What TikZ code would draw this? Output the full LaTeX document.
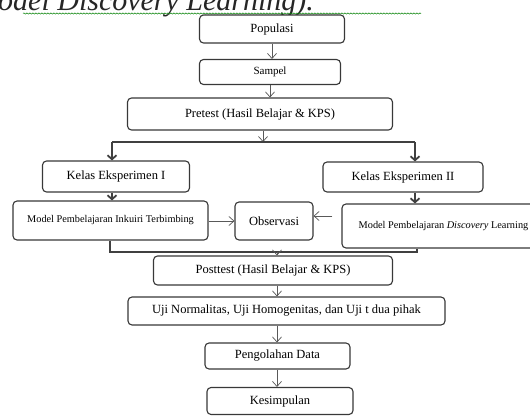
\documentclass[tikz,border=0pt]{standalone}
\usepackage{fontspec}
\setmainfont{Liberation Serif}
\usetikzlibrary{arrows.meta,positioning,decorations.pathmorphing}

\begin{document}
\begin{tikzpicture}[x=1pt,y=-1pt,
	kotak/.style={draw=black!78,line width=1.1pt,rounded corners=4pt,fill=white,inner sep=0pt,font=\fontsize{12.5}{14}\selectfont},
	kecil/.style={font=\fontsize{10.3}{12}\selectfont},
	panah/.style={draw=black!65,line width=.7pt,-{Straight Barb[length=5pt,width=9pt]}},
	cabang/.style={draw=black!75,line width=1.8pt},
	panahtebal/.style={draw=black!75,line width=1.8pt,-{Straight Barb[length=4pt,width=9pt]}}]

\useasboundingbox (0,0) rectangle (530,415);
\clip (0,0) rectangle (530,415);
\fill[white] (0,0) rectangle (530,415);

%-------------------------------------------------------------------------------
% Judul (terpotong)
%-------------------------------------------------------------------------------
\node (judul) [anchor=base west,inner sep=0pt,text=black!85,font=\fontsize{30}{32}\selectfont\itshape] at (-2,10) {odel Discovery Learning).};
\coordinate (garisawal)  at (23,13.5);
\coordinate (garisakhir) at (421,13.5);
\draw [green!50!black,line width=.5pt,decorate,decoration={snake,amplitude=.6pt,segment length=3pt}] (garisawal) -- (garisakhir);

%-------------------------------------------------------------------------------
% Populasi - Pretest
%-------------------------------------------------------------------------------
\node (populasi) [kotak,minimum width=145,minimum height=28] at (272,29)	{Populasi};
\node (sampel)   [kotak,minimum width=141,minimum height=25,font=\fontsize{11}{13}\selectfont] at (270,72)	{Sampel};
\node (pretest)  [kotak,minimum width=265,minimum height=32] at (260,114)	{Pretest (Hasil Belajar \& KPS)};
\draw [panah] (populasi.south) -- (populasi.south |- sampel.north);
\draw [panah] (sampel.south) -- (sampel.south |- pretest.north);

%-------------------------------------------------------------------------------
% Kelas eksperimen
%-------------------------------------------------------------------------------
\node (kelas1)   [kotak,minimum width=147,minimum height=31] at (116,176.5)	{Kelas Eksperimen I};
\node (kelas2)   [kotak,minimum width=160,minimum height=30] at (403,177)	{Kelas Eksperimen II};
\node (inkuiri)  [kotak,kecil,minimum width=195,minimum height=39] at (110.5,220.5)	{Model Pembelajaran Inkuiri Terbimbing};
\node (observasi) [kotak,minimum width=78,minimum height=38] at (274,221)	{Observasi};
\node (discovery) [kotak,kecil,minimum width=203,minimum height=44] at (443.5,226)	{Model Pembelajaran \textit{Discovery} Learning};

\coordinate (pisah)      at (263,142);
\coordinate (pisahkiri)  at (112,142);
\coordinate (pisahkanan) at (415,142);
\draw [panah] (pretest.south -| pisah) -- (pisah);
\draw [cabang] (pisahkiri) -- (pisahkanan);
\draw [panahtebal] (pisahkiri) -- (pisahkiri |- kelas1.north);
\draw [panahtebal] (pisahkanan) -- (pisahkanan |- kelas2.north);
\draw [panahtebal] (kelas1.south -| pisahkiri) -- (inkuiri.north -| pisahkiri);
\draw [panahtebal] (kelas2.south -| pisahkanan) -- (discovery.north -| pisahkanan);

\draw [panah] (inkuiri.east |- observasi.west) -- (observasi.west);
\draw [panah,shorten <=9pt] (discovery.west |- 0,216) -- (observasi.east |- 0,216);

%-------------------------------------------------------------------------------
% Posttest - Kesimpulan
%-------------------------------------------------------------------------------
\node (posttest)  [kotak,minimum width=239,minimum height=29] at (273,270.5)	{Posttest (Hasil Belajar \& KPS)};
\node (uji)       [kotak,minimum width=317,minimum height=28] at (286.5,311)	{Uji Normalitas, Uji Homogenitas, dan Uji t dua pihak};
\node (olahdata)  [kotak,minimum width=145,minimum height=26] at (277.5,356)	{Pengolahan Data};
\node (simpulan)  [kotak,minimum width=146,minimum height=27] at (280,401)	{Kesimpulan};

\coordinate (gabung)      at (277,252);
\coordinate (gabungkiri)  at (110,252);
\coordinate (gabungkanan) at (417,252);
\draw [cabang] (inkuiri.south -| gabungkiri) -- (gabungkiri) -- (gabungkanan) -- (discovery.south -| gabungkanan);
\draw [panah] (gabung) -- (gabung |- posttest.north);
\draw [panah] (posttest.south -| gabung) -- (uji.north -| gabung);
\draw [panah] (uji.south -| gabung) -- (olahdata.north -| gabung);
\draw [panah] (olahdata.south -| gabung) -- (simpulan.north -| gabung);
\end{tikzpicture}
\end{document}
